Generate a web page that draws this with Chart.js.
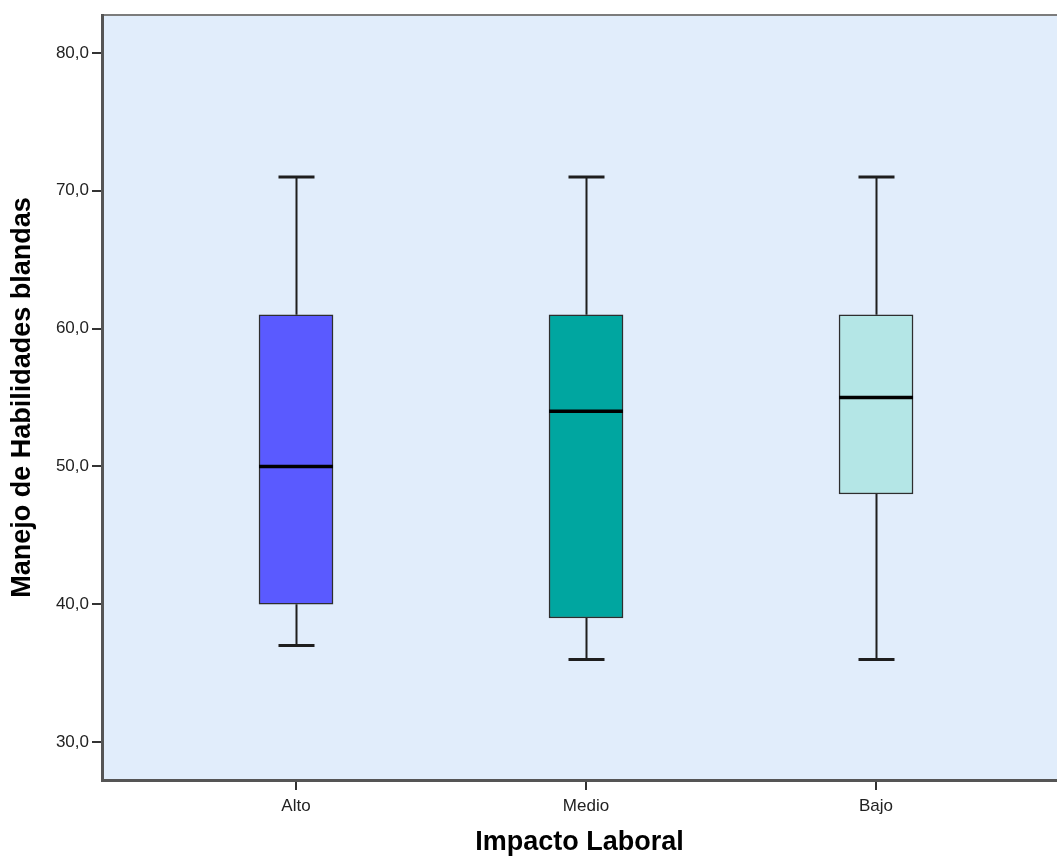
<!DOCTYPE html>
<html>
<head>
<meta charset="utf-8">
<script src="https://cdn.jsdelivr.net/npm/chart.js@4/dist/chart.umd.min.js"></script>
<style>
  html, body { margin: 0; padding: 0; background: #fff; overflow: hidden; }
  #wrap { width: 1057px; height: 857px; }
</style>
</head>
<body>
<div id="wrap"><canvas id="canvas" width="1057" height="857"></canvas></div>
<script>
// boxplot values per group
var categories = ["Alto", "Medio", "Bajo"];
var mins    = [37, 36, 36];
var q1s     = [40, 39, 48];
var medians = [50, 54, 55];
var q3s     = [61, 61, 61];
var maxs    = [71, 71, 71];
var boxColors = ["#5a5aff", "#00a6a0", "#b4e6e6"];
var yTicks = [30, 40, 50, 60, 70, 80];

var FONT = "Arial, 'Liberation Sans', sans-serif";

// boxes are floating bars from q1 to q3
var boxData = categories.map(function(c, i) {
  return { x: i, y: [q1s[i], q3s[i]] };
});

// plot background + top frame line
var plotBg = {
  id: 'plotBg',
  beforeDraw: function(chart) {
    var a = chart.chartArea, ctx = chart.ctx;
    ctx.save();
    ctx.fillStyle = "#e1edfb";
    ctx.fillRect(a.left, a.top, a.right - a.left, a.bottom - a.top);
    ctx.strokeStyle = "#7c7c7c";
    ctx.lineWidth = 2;
    ctx.beginPath();
    ctx.moveTo(a.left, a.top);
    ctx.lineTo(a.right, a.top);
    ctx.stroke();
    ctx.restore();
  }
};

// whiskers go under the boxes, medians on top
var boxExtras = {
  id: 'boxExtras',
  beforeDatasetsDraw: function(chart) {
    var ctx = chart.ctx, x = chart.scales.x, y = chart.scales.y;
    ctx.save();
    ctx.strokeStyle = "#1e1e1e";
    for (var i = 0; i < categories.length; i++) {
      var cx = Math.round(x.getPixelForValue(i)) + 0.5;
      ctx.lineWidth = 2;
      ctx.beginPath();
      ctx.moveTo(cx, y.getPixelForValue(q3s[i]));
      ctx.lineTo(cx, y.getPixelForValue(maxs[i]));
      ctx.moveTo(cx, y.getPixelForValue(q1s[i]));
      ctx.lineTo(cx, y.getPixelForValue(mins[i]));
      ctx.stroke();
      ctx.lineWidth = 3;
      ctx.beginPath();
      ctx.moveTo(cx - 18, y.getPixelForValue(maxs[i]));
      ctx.lineTo(cx + 18, y.getPixelForValue(maxs[i]));
      ctx.moveTo(cx - 18, y.getPixelForValue(mins[i]));
      ctx.lineTo(cx + 18, y.getPixelForValue(mins[i]));
      ctx.stroke();
    }
    ctx.restore();
  },
  afterDatasetsDraw: function(chart) {
    var ctx = chart.ctx, y = chart.scales.y;
    var meta = chart.getDatasetMeta(0);
    ctx.save();
    ctx.strokeStyle = "#000";
    ctx.lineWidth = 3.5;
    for (var i = 0; i < categories.length; i++) {
      var bar = meta.data[i];
      var my = y.getPixelForValue(medians[i]);
      ctx.beginPath();
      ctx.moveTo(bar.x - bar.width / 2, my);
      ctx.lineTo(bar.x + bar.width / 2, my);
      ctx.stroke();
    }
    ctx.restore();
  }
};

var ctx = document.getElementById("canvas").getContext("2d");
var chart = new Chart(ctx, {
  type: 'bar',
  data: {
    datasets: [{
      data: boxData,
      backgroundColor: boxColors,
      borderColor: "#2e2e2e",
      borderWidth: 1.5,
      borderSkipped: false,
      barThickness: 74
    }]
  },
  options: {
    responsive: false,
    animation: false,
    layout: { padding: { top: 15, left: 0, right: 0, bottom: 0 } },
    plugins: { legend: { display: false }, tooltip: { enabled: false } },
    scales: {
      x: {
        type: 'linear',
        offset: false,
        min: -0.669,
        max: 2.624,
        afterFit: function(s) { s.height = 77; },
        afterBuildTicks: function(s) {
          s.ticks = categories.map(function(c, i) { return { value: i }; });
        },
        ticks: {
          color: "#222",
          font: { family: FONT, size: 17 },
          padding: 6,
          maxRotation: 0,
          callback: function(v) { return categories[v]; }
        },
        grid: { offset: false, drawOnChartArea: false, drawTicks: true, tickLength: 10, color: "#333", lineWidth: 2 },
        border: { display: true, color: "#555", width: 3 },
        title: {
          display: true,
          text: "Impacto Laboral",
          color: "#000",
          font: { family: FONT, size: 27, weight: 'bold', lineHeight: 1 },
          padding: { top: 0, bottom: 1 }
        }
      },
      y: {
        min: 27.25,
        max: 82.75,
        afterFit: function(s) { s.width = 102; },
        afterBuildTicks: function(s) {
          s.ticks = yTicks.map(function(v) { return { value: v }; });
        },
        ticks: {
          color: "#222",
          font: { family: FONT, size: 17 },
          padding: 3,
          callback: function(v) { return v.toFixed(1).replace('.', ','); }
        },
        grid: { drawOnChartArea: false, drawTicks: true, tickLength: 10, color: "#333", lineWidth: 2 },
        border: { display: true, color: "#555", width: 3 },
        title: {
          display: true,
          text: "Manejo de Habilidades blandas",
          color: "#000",
          font: { family: FONT, size: 27, weight: 'bold', lineHeight: 1 },
          padding: { top: 9, bottom: 0 }
        }
      }
    }
  },
  plugins: [plotBg, boxExtras]
});
</script>
</body>
</html>
